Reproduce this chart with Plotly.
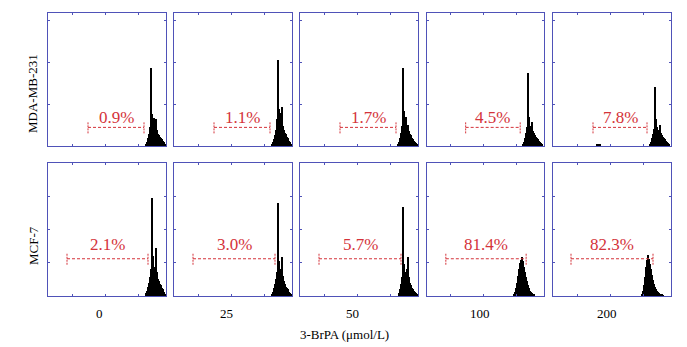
import plotly.graph_objects as go

W, H = 687, 347

# ---------------- data ----------------
row_labels = ["MDA-MB-231", "MCF-7"]
dose_labels = ["0", "25", "50", "100", "200"]
x_title = "3-BrPA (μmol/L)"

top_pct = ["0.9%", "1.1%", "1.7%", "4.5%", "7.8%"]
bot_pct = ["2.1%", "3.0%", "5.7%", "81.4%", "82.3%"]

# histogram bins: start channel + counts (% of frame height)
top_start = [98, 98, 98, 97, 97]
top_counts = [
    [1, 3, 6, 9, 14, 59, 24, 18, 21, 13, 20, 12, 9, 8, 7, 6, 5, 4, 3, 1],
    [1, 3, 5, 8, 12, 20, 65, 28, 25, 22, 29, 15, 12, 10, 9, 7, 6, 4, 3, 1],
    [1, 3, 6, 10, 15, 59, 26, 18, 22, 14, 16, 11, 9, 8, 6, 5, 4, 3, 2, 1],
    [1, 3, 6, 10, 14, 55, 22, 15, 12, 18, 11, 10, 8, 7, 6, 5, 4, 3, 2, 1],
    [1, 3, 6, 9, 13, 44, 20, 14, 11, 12, 16, 10, 8, 7, 6, 5, 4, 3, 2, 1],
]
top5_sub_start = 44
top5_sub_counts = [1, 1.5, 1.5, 1]

bot_start = [98, 98, 99, 88, 89]
bot_counts = [
    [2, 4, 7, 10, 14, 20, 74, 30, 22, 20, 36, 18, 13, 11, 9, 8, 6, 5, 3, 1],
    [1, 3, 6, 9, 13, 18, 70, 26, 20, 18, 29, 15, 11, 9, 7, 6, 5, 3, 2, 1],
    [2, 5, 9, 14, 67, 24, 18, 16, 20, 29, 14, 10, 8, 6, 5, 4, 3, 2, 1],
    [1, 3, 6, 10, 15, 20, 25, 27, 29, 26, 22, 18, 14, 11, 8, 6, 4, 3, 2, 1.5, 1],
    [1, 4, 8, 14, 22, 27, 31, 28, 24, 20, 16, 12, 9, 7, 5, 4, 3, 2, 1.5, 1, 1, 0.5],
]

# gate brackets (channel start/end)
top_gate_lo = [40, 40, 40, 39, 40]
top_gate_hi = [96, 96, 96, 94, 94]
bot_gate_lo = [19, 19, 19, 19, 18]
bot_gate_hi = [100, 101, 101, 100, 100]

# ---------------- layout helpers ----------------
col_px = [(48, 166), (174, 292), (300, 418), (427, 544), (553, 671)]
row_px = [(13, 146), (163, 296)]
FRAME = "#4f52b8"
RED = "#d4333a"
FONT = "Liberation Serif"

fig = go.Figure()
layout = dict(
    width=W, height=H, margin=dict(l=0, r=0, t=0, b=0),
    paper_bgcolor="white", plot_bgcolor="white", showlegend=False,
    font=dict(family=FONT, color="black"),
)
annotations = []

def add_panel(idx, r, c, starts, counts_list, lo, hi, pct, gate_y, text_y, extra=None):
    xa = f"x{idx}" if idx > 1 else "x"
    ya = f"y{idx}" if idx > 1 else "y"
    xk = f"xaxis{idx}" if idx > 1 else "xaxis"
    yk = f"yaxis{idx}" if idx > 1 else "yaxis"
    x0, x1 = col_px[c]
    t, b = row_px[r]
    layout[xk] = dict(domain=[x0 / W, x1 / W], range=[0, 118], showgrid=False, zeroline=False,
                      showticklabels=False, showline=True, mirror="ticks", linecolor=FRAME, linewidth=1,
                      ticks="inside", ticklen=2, tickcolor=FRAME, dtick=33, tick0=24,
                      anchor=ya, fixedrange=True)
    layout[yk] = dict(domain=[1 - b / H, 1 - t / H], range=[0, 100], showgrid=False, zeroline=False,
                      showticklabels=False, showline=True, mirror="ticks", linecolor=FRAME, linewidth=1,
                      ticks="inside", ticklen=2, tickcolor=FRAME, dtick=25 if r == 1 else 31.5, tick0=0,
                      anchor=xa, fixedrange=True)
    xs = [starts + i for i in range(len(counts_list))]
    fig.add_trace(go.Bar(x=xs, y=counts_list, width=1.0, marker=dict(color="black", line=dict(width=0)),
                         xaxis=xa, yaxis=ya))
    if extra is not None:
        es, ec = extra
        fig.add_trace(go.Bar(x=[es + i for i in range(len(ec))], y=ec, width=1.0,
                             marker=dict(color="black", line=dict(width=0)), xaxis=xa, yaxis=ya))
    cap = 4.5
    dash = dict(color=RED, width=1, dash="3px,2px")
    fig.add_trace(go.Scatter(x=[lo, hi], y=[gate_y, gate_y], mode="lines", line=dash, xaxis=xa, yaxis=ya,
                             hoverinfo="skip"))
    for xv in (lo, hi):
        fig.add_trace(go.Scatter(x=[xv, xv], y=[gate_y - cap, gate_y + cap], mode="lines",
                                 line=dict(color=RED, width=1, dash="2px,1px"), xaxis=xa, yaxis=ya,
                                 hoverinfo="skip"))
    annotations.append(dict(x=(lo + hi) / 2, y=text_y, xref=xa, yref=ya, text=pct, showarrow=False,
                            font=dict(family=FONT, size=17, color=RED), xanchor="center", yanchor="middle"))

idx = 1
for c in range(5):
    add_panel(idx, 0, c, top_start[c], top_counts[c], top_gate_lo[c], top_gate_hi[c], top_pct[c],
              14, 21.5, extra=(top5_sub_start, top5_sub_counts) if c == 4 else None)
    idx += 1
for c in range(5):
    add_panel(idx, 1, c, bot_start[c], bot_counts[c], bot_gate_lo[c], bot_gate_hi[c], bot_pct[c],
              28, 38.5)
    idx += 1

# row labels
for lbl, yc in zip(row_labels, [94, 246]):
    annotations.append(dict(x=33 / W, y=1 - yc / H, xref="paper", yref="paper", text=lbl, textangle=-90,
                            showarrow=False, font=dict(family=FONT, size=13, color="black"),
                            xanchor="center", yanchor="middle"))
# dose labels
for lbl, xc in zip(dose_labels, [100, 226, 352, 480, 607]):
    annotations.append(dict(x=xc / W, y=1 - 313 / H, xref="paper", yref="paper", text=lbl, showarrow=False,
                            font=dict(family=FONT, size=13, color="black"), xanchor="center", yanchor="middle"))
annotations.append(dict(x=345 / W, y=1 - 334 / H, xref="paper", yref="paper", text=x_title, showarrow=False,
                        font=dict(family=FONT, size=13, color="black"), xanchor="center", yanchor="middle"))

layout["annotations"] = annotations
layout["bargap"] = 0
fig.update_layout(**layout)
fig.write_html("out.html", config={"displayModeBar": False})
